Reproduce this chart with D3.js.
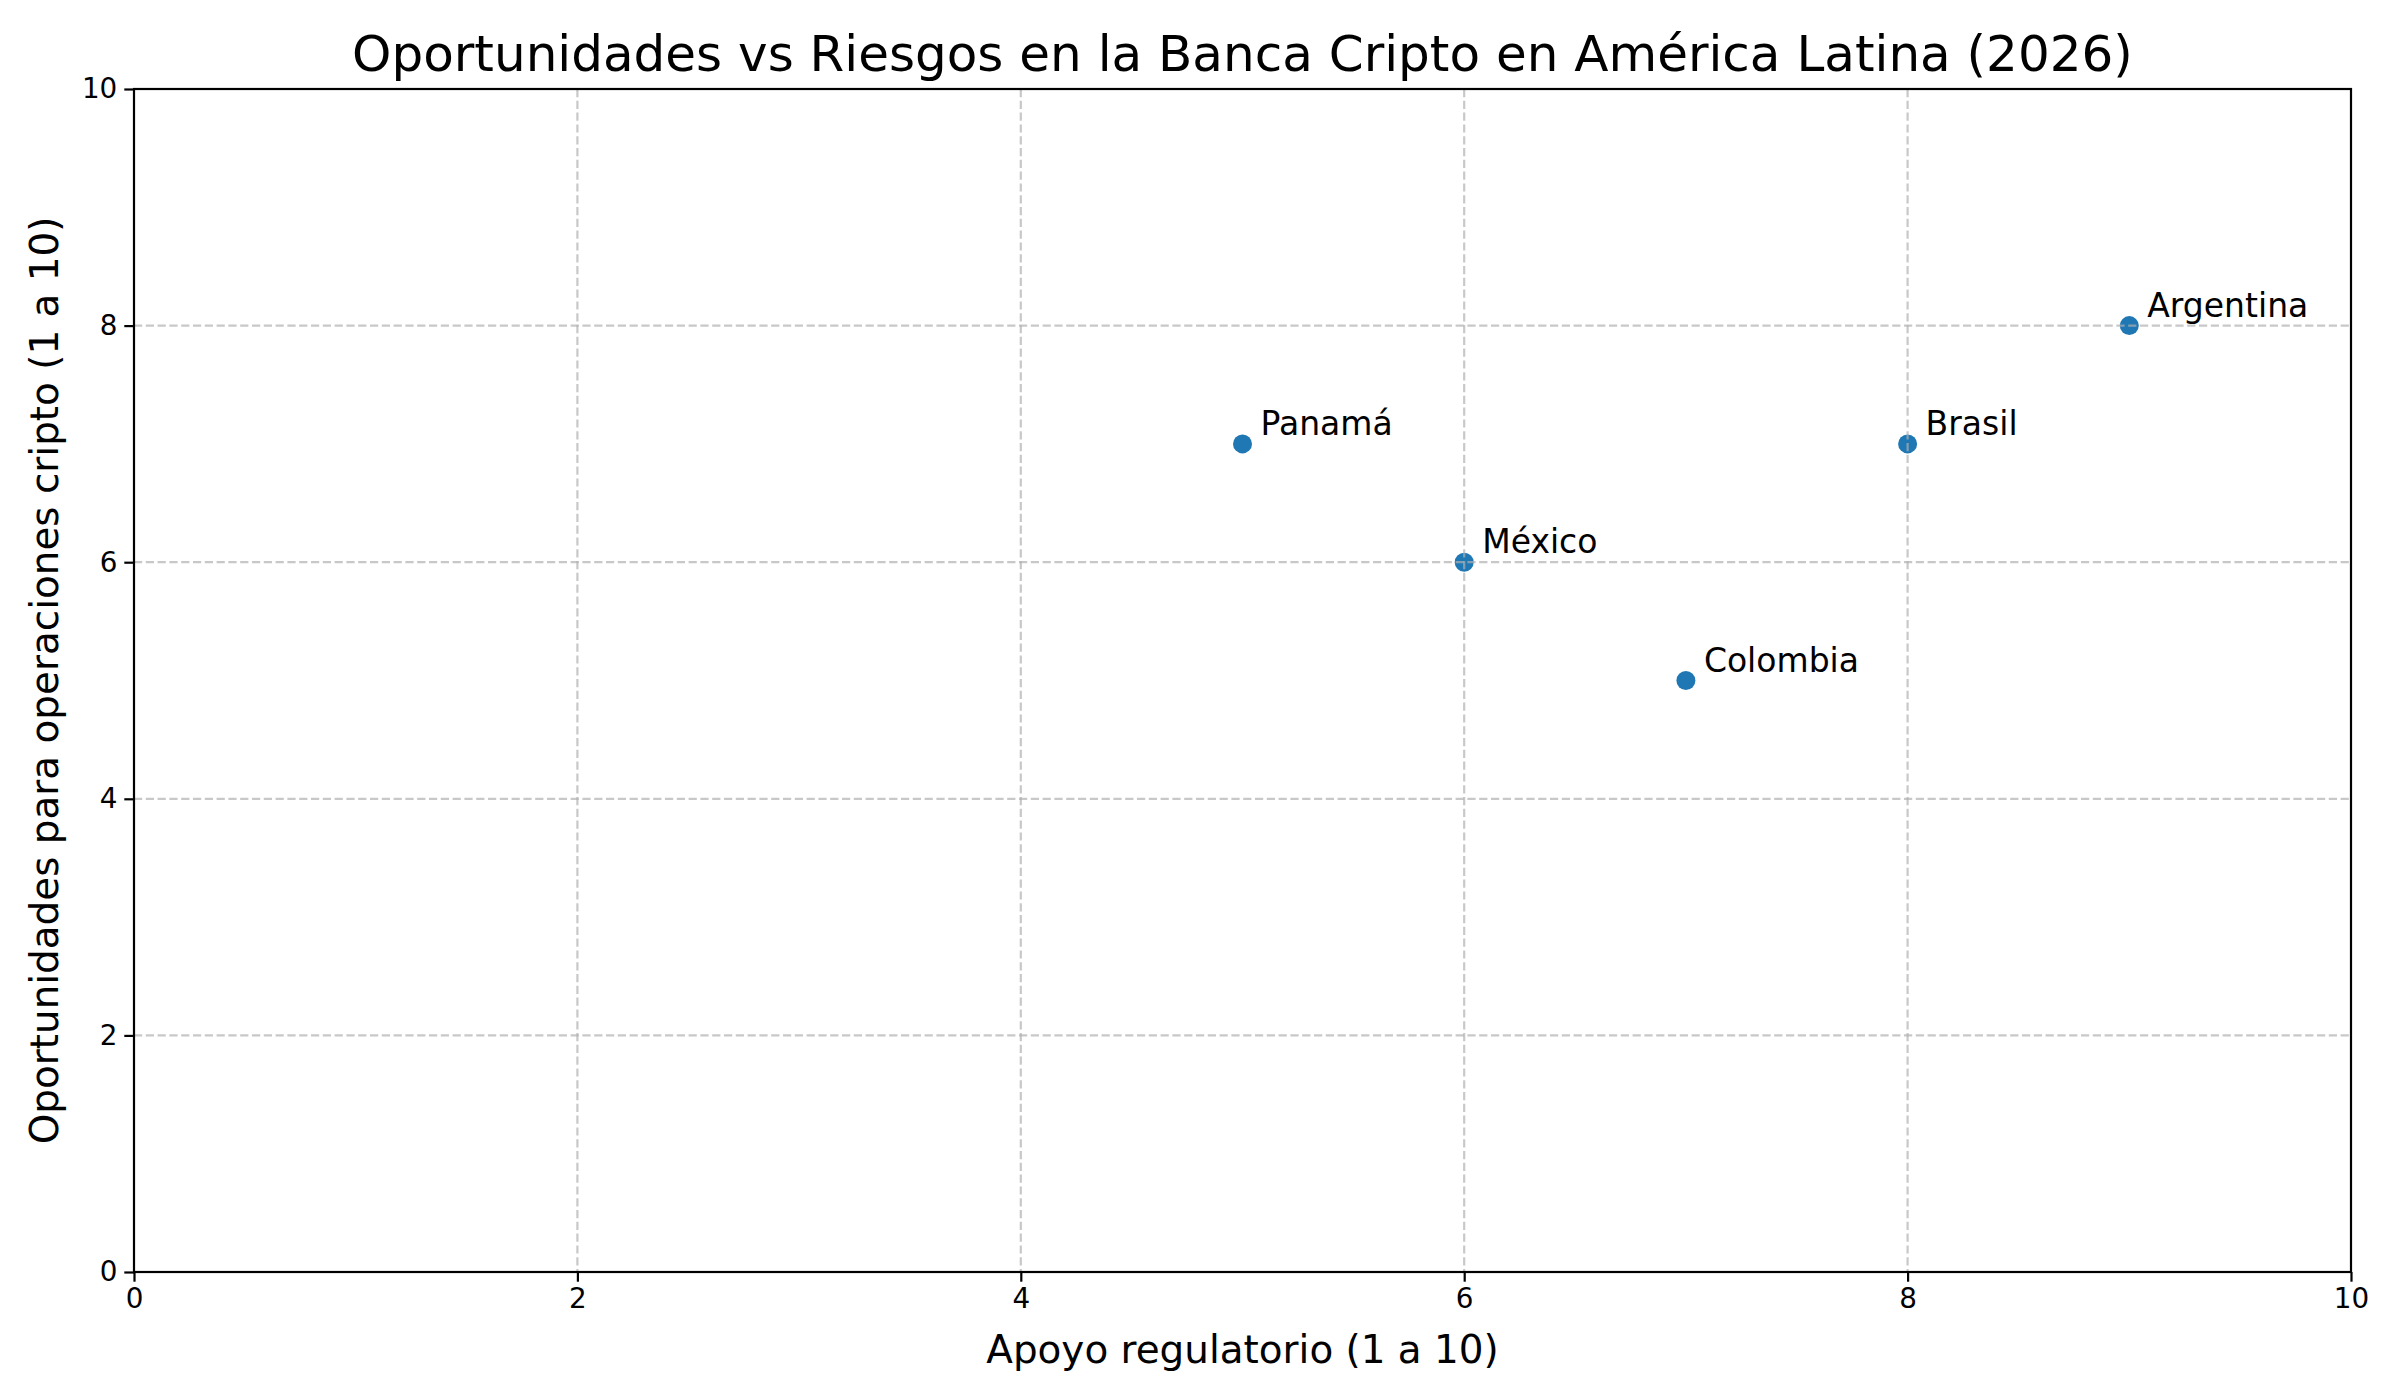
<!DOCTYPE html>
<html>
<head>
<meta charset="utf-8">
<script src="https://cdn.jsdelivr.net/npm/d3@7"></script>
<style>
  body { margin: 0; background: #fff; }
  text { font-family: "DejaVu Sans", sans-serif; fill: #000; }
</style>
</head>
<body>
<div id="plot"></div>
<script>
// data
var countries = ["México", "Brasil", "Argentina", "Colombia", "Panamá"];
var apoyo = [6, 8, 9, 7, 5];
var oportunidades = [6, 7, 8, 5, 7];
var tickValues = [0, 2, 4, 6, 8, 10];

var svgWidth = 2400;
var svgHeight = 1400;

var margin = { top: 89, right: 49, bottom: 128, left: 134 };

var width = svgWidth - margin.left - margin.right;
var height = svgHeight - margin.top - margin.bottom;

var svg = d3.select("#plot")
  .append("svg")
  .attr("width", svgWidth)
  .attr("height", svgHeight);

var chartGroup = svg.append("g")
  .attr("transform", `translate(${margin.left}, ${margin.top})`);

var xScale = d3.scaleLinear().domain([0, 10]).range([0, width]);
var yScale = d3.scaleLinear().domain([0, 10]).range([height, 0]);

// points
chartGroup.selectAll("circle")
  .data(countries)
  .enter()
  .append("circle")
  .attr("cx", (d, i) => xScale(apoyo[i]))
  .attr("cy", (d, i) => yScale(oportunidades[i]))
  .attr("r", 9.5)
  .attr("fill", "#1f77b4");

// gridlines (drawn over the points like the reference)
var grid = chartGroup.append("g").attr("class", "grid");
grid.selectAll("line.gx")
  .data(tickValues.slice(1, -1))
  .enter()
  .append("line")
  .attr("x1", d => xScale(d)).attr("x2", d => xScale(d))
  .attr("y1", 0).attr("y2", height);
grid.selectAll("line.gy")
  .data(tickValues.slice(1, -1))
  .enter()
  .append("line")
  .attr("y1", d => yScale(d)).attr("y2", d => yScale(d))
  .attr("x1", 0).attr("x2", width);
grid.selectAll("line")
  .attr("stroke", "#b0b0b0")
  .attr("stroke-opacity", 0.7)
  .attr("stroke-width", 2.2)
  .attr("stroke-dasharray", "8.2,3.6");

// labels
chartGroup.selectAll("text.label")
  .data(countries)
  .enter()
  .append("text")
  .attr("class", "label")
  .attr("x", (d, i) => xScale(apoyo[i]) + 18)
  .attr("y", (d, i) => yScale(oportunidades[i]) - 9)
  .attr("font-size", "33px")
  .text(d => d);

// axes
var bottomAxis = d3.axisBottom(xScale).tickValues(tickValues).tickFormat(d3.format("d"))
  .tickSizeOuter(0).tickSizeInner(9.7).tickPadding(7);
var leftAxis = d3.axisLeft(yScale).tickValues(tickValues).tickFormat(d3.format("d"))
  .tickSizeOuter(0).tickSizeInner(9.7).tickPadding(7);

var xAxisG = chartGroup.append("g")
  .attr("transform", `translate(0, ${height})`)
  .call(bottomAxis);
var yAxisG = chartGroup.append("g").call(leftAxis);

[xAxisG, yAxisG].forEach(function(g) {
  g.select(".domain").remove();
  g.selectAll(".tick line").attr("stroke", "#000").attr("stroke-width", 2.2);
  g.selectAll(".tick text").attr("font-size", "27.8px").attr("font-family", "DejaVu Sans").attr("fill", "#000");
});

// frame
chartGroup.append("rect")
  .attr("width", width)
  .attr("height", height)
  .attr("fill", "none")
  .attr("stroke", "#000")
  .attr("stroke-width", 2.2);

// title and axis labels
svg.append("text")
  .attr("x", margin.left + width / 2)
  .attr("y", 71)
  .attr("text-anchor", "middle")
  .attr("font-size", "50px")
  .text("Oportunidades vs Riesgos en la Banca Cripto en América Latina (2026)");

svg.append("text")
  .attr("x", margin.left + width / 2)
  .attr("y", 1363)
  .attr("text-anchor", "middle")
  .attr("font-size", "38.9px")
  .text("Apoyo regulatorio (1 a 10)");

svg.append("text")
  .attr("transform", `translate(58, ${margin.top + height / 2}) rotate(-90)`)
  .attr("text-anchor", "middle")
  .attr("font-size", "38.9px")
  .text("Oportunidades para operaciones cripto (1 a 10)");
</script>
</body>
</html>
